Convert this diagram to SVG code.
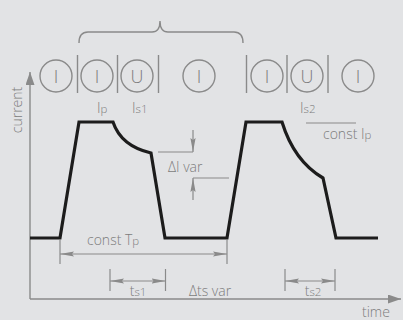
<svg xmlns="http://www.w3.org/2000/svg" width="403" height="320" viewBox="0 0 403 320">
  <defs>
    <style>
      .bg { fill: #e2e3e5; }
      .g { stroke: #8a8a8a; stroke-width: 1.4; fill: none; }
      .dim { stroke: #8a8a8a; stroke-width: 1.2; fill: none; }
      .wave { stroke: #1c1c1c; stroke-width: 3.2; fill: none; stroke-linejoin: miter; }
      .t { font-family: "Open Sans", "Liberation Sans", sans-serif; font-weight: 300; fill: #7c7c7c; font-size: 14px; }
      .sym { font-family: "Open Sans", "Liberation Sans", sans-serif; font-weight: 300; fill: #7c7c7c; font-size: 18px; text-anchor: middle; }
      .sub { font-size: 11.5px; }
    </style>
    <marker id="ah" viewBox="0 0 14 6" refX="14" refY="3" markerWidth="14" markerHeight="6" markerUnits="userSpaceOnUse" orient="auto-start-reverse">
      <path d="M0,0.4 L14,3 L0,5.6 L2,3 Z" fill="#8a8a8a"/>
    </marker>
    <marker id="axh" viewBox="0 0 13 9" refX="13" refY="4.5" markerWidth="13" markerHeight="9" markerUnits="userSpaceOnUse" orient="auto">
      <path d="M0,0 L13,4.5 L0,9 Z" fill="#8a8a8a"/>
    </marker>
  </defs>

  <rect class="bg" x="0" y="0" width="403" height="320"/>

  <!-- brace spanning one cycle -->
  <g id="brace">
    <path class="g" d="M79,43 Q79,32 88,32 L152,32 Q160,32 160,21 Q160,32 168,32 L234,32 Q243,32 243,43"/>
  </g>

  <!-- regulation mode symbols -->
  <g id="modes">
    <g id="m1"><circle class="g" cx="56" cy="76" r="16"/><text class="sym" x="56" y="83">I</text></g>
    <g id="m2"><circle class="g" cx="97" cy="76" r="16"/><text class="sym" x="97" y="83">I</text></g>
    <g id="m3"><circle class="g" cx="137" cy="76" r="16"/><text class="sym" x="137" y="83">U</text></g>
    <g id="m4"><circle class="g" cx="199" cy="76" r="16"/><text class="sym" x="199" y="83">I</text></g>
    <g id="m5"><circle class="g" cx="267" cy="76" r="16"/><text class="sym" x="267" y="83">I</text></g>
    <g id="m6"><circle class="g" cx="307" cy="76" r="16"/><text class="sym" x="307" y="83">U</text></g>
    <g id="m7"><circle class="g" cx="358" cy="76" r="16"/><text class="sym" x="358" y="83">I</text></g>
    <g id="separators">
      <line class="g" x1="77.5" y1="55" x2="77.5" y2="93"/>
      <line class="g" x1="117.5" y1="55" x2="117.5" y2="93"/>
      <line class="g" x1="158.5" y1="55" x2="158.5" y2="93"/>
      <line class="g" x1="246.5" y1="55" x2="246.5" y2="93"/>
      <line class="g" x1="287" y1="55" x2="287" y2="93"/>
      <line class="g" x1="328" y1="55" x2="328" y2="93"/>
    </g>
  </g>

  <!-- axes -->
  <g id="axes">
    <line class="g" x1="30" y1="299" x2="30" y2="72" marker-end="url(#axh)"/>
    <line class="g" x1="30" y1="299" x2="401" y2="299" marker-end="url(#axh)"/>
    <text class="t" transform="translate(22,110) rotate(-90)" text-anchor="middle">current</text>
    <text class="t" x="362" y="317">time</text>
  </g>

  <!-- current waveform -->
  <g id="waveform">
    <path class="wave" d="M30,238 L60,238 L79,122 L113,122 Q121,146 151,153 L165,238 L227,238 L246,122 L282,122 Q294,161 323,178 L336,238 L378,238"/>
  </g>

  <!-- level labels -->
  <g id="labels">
    <text class="t" x="97" y="113">I<tspan class="sub">p</tspan></text>
    <text class="t" x="132" y="113">I<tspan class="sub">s1</tspan></text>
    <text class="t" x="300" y="113">I<tspan class="sub">s2</tspan></text>
    <line class="dim" x1="306" y1="123" x2="356" y2="123"/>
    <text class="t" x="323" y="139">const I<tspan class="sub">p</tspan></text>
  </g>

  <!-- dimension connectors -->
  <g id="connectors">
    <!-- delta I -->
    <line class="dim" x1="158" y1="152" x2="193" y2="152"/>
    <line class="dim" x1="193" y1="130" x2="193" y2="152" marker-end="url(#ah)"/>
    <line class="dim" x1="193" y1="178" x2="229" y2="178"/>
    <line class="dim" x1="193" y1="200" x2="193" y2="178" marker-end="url(#ah)"/>
    <text class="t" x="168" y="172">ΔI var</text>

    <!-- pulse period -->
    <line class="dim" x1="60" y1="240" x2="60" y2="264"/>
    <line class="dim" x1="227" y1="240" x2="227" y2="264"/>
    <line class="dim" x1="60" y1="254" x2="227" y2="254" marker-start="url(#ah)" marker-end="url(#ah)"/>
    <text class="t" x="87" y="245">const T<tspan class="sub">p</tspan></text>

    <!-- ts1 -->
    <line class="dim" x1="110" y1="269" x2="110" y2="291"/>
    <line class="dim" x1="165.5" y1="269" x2="165.5" y2="291"/>
    <line class="dim" x1="110" y1="281" x2="165.5" y2="281" marker-start="url(#ah)" marker-end="url(#ah)"/>
    <text class="t" x="138" y="296" text-anchor="middle">t<tspan class="sub">s1</tspan></text>

    <!-- ts2 -->
    <line class="dim" x1="285" y1="269" x2="285" y2="291"/>
    <line class="dim" x1="335" y1="269" x2="335" y2="291"/>
    <line class="dim" x1="285" y1="281" x2="335" y2="281" marker-start="url(#ah)" marker-end="url(#ah)"/>
    <text class="t" x="313" y="296" text-anchor="middle">t<tspan class="sub">s2</tspan></text>

    <text class="t" x="189" y="296">Δts var</text>
  </g>
</svg>
